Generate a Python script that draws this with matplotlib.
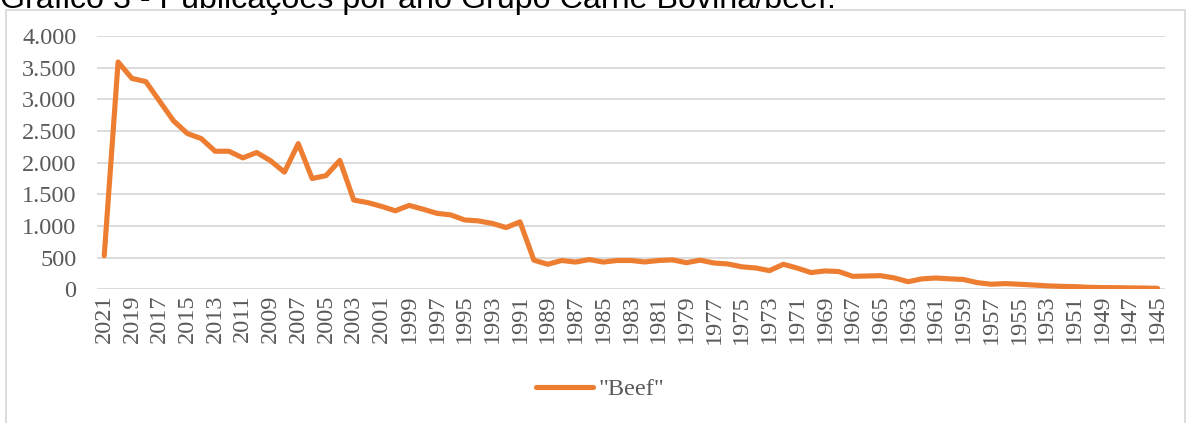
import matplotlib.pyplot as plt
from matplotlib.patches import Rectangle
from matplotlib.ticker import FuncFormatter, FixedLocator

years = list(range(2021, 1944, -1))
beef = [
    530, 3590, 3330, 3280, 2970, 2660, 2460, 2380, 2180, 2180,
    2075, 2160, 2030, 1850, 2300, 1750, 1795, 2035, 1410, 1370,
    1310, 1240, 1325, 1265, 1200, 1175, 1095, 1080, 1040, 975,
    1065, 460, 395, 455, 430, 470, 430, 455, 455, 432,
    455, 465, 420, 460, 415, 400, 355, 337, 295, 395,
    335, 264, 290, 280, 205, 210, 215, 180, 120, 165,
    178, 165, 155, 105, 80, 90, 80, 68, 55, 47,
    42, 32, 27, 26, 22, 20, 15,
]
series_name = '"Beef"'
title = "Gráfico 3 - Publicações por ano Grupo Carne Bovina/beef."

ORANGE = "#ED7D31"
GRID = "#D9D9D9"
TXT = "#595959"
SERIF = ["Liberation Serif", "DejaVu Serif"]

fig = plt.figure(figsize=(11.9, 4.23), dpi=100)
W, H = 1190, 423

# chart frame (runs past the bottom edge like the cropped original)
fig.patches.append(Rectangle((5.7 / W, -0.05), (1185 - 5.7) / W, 1.05 - 9.6 / H,
                             transform=fig.transFigure, fill=False,
                             edgecolor=GRID, linewidth=1.3))

# title is cropped at the top in the original
fig.text(0 / W, 1 - 8 / H, title, fontsize=23.2, family="Liberation Sans",
         ha="left", va="baseline", color="black")

ax = fig.add_axes([97.3 / W, 1 - 289.3 / H, (1164.5 - 97.3) / W, (289.3 - 36) / H])
x = list(range(len(years)))
ax.plot(x, beef, color=ORANGE, linewidth=3.7, solid_capstyle="round",
        solid_joinstyle="round", label=series_name, zorder=3)

ax.set_xlim(-0.5, len(years) - 0.5)
ax.set_ylim(0, 4000)
ax.yaxis.set_major_locator(FixedLocator(range(0, 4001, 500)))
ax.yaxis.set_major_formatter(FuncFormatter(lambda v, p: f"{v:,.0f}".replace(",", ".")))
ax.set_xticks(x[::2])
ax.set_xticklabels([str(y) for y in years[::2]], rotation=90)
ax.grid(axis="y", color=GRID, linewidth=1.3)
ax.set_axisbelow(True)
for s in ax.spines.values():
    s.set_visible(False)
ax.tick_params(axis="both", length=0, colors=TXT, labelsize=17.5)
ax.tick_params(axis="y", pad=15)
ax.tick_params(axis="x", pad=4)
for lab in ax.get_xticklabels() + ax.get_yticklabels():
    lab.set_family(SERIF)

fig.legend(loc="center", bbox_to_anchor=(600 / W, 1 - 389 / H), frameon=False,
           prop={"family": SERIF, "size": 17.5}, labelcolor=TXT,
           handlelength=2.35, handletextpad=0.2)

fig.savefig("out.png", dpi=100)
